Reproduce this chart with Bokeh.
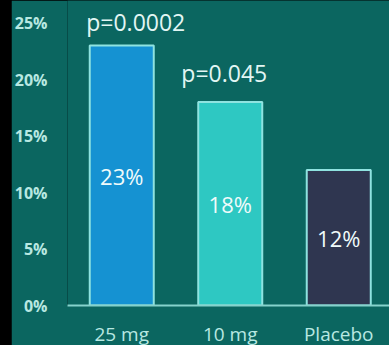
from jinja2 import Template
from bokeh.plotting import figure
from bokeh.models import Range1d, FixedTicker
from bokeh.embed import file_html
from bokeh.resources import INLINE
from bokeh.core.properties import value

doses = ["25 mg", "10 mg", "Placebo"]
rates = [23, 18, 12]
pvalues = ["p=0.0002", "p=0.045", ""]
bar_colors = ["#1592d2", "#2ec8c2", "#2f3650"]
ytick_vals = [0, 5, 10, 15, 20, 25]

BG = "#0b6660"
TXT = "#e2f6f4"

xs = [i + 1 for i in range(len(doses))]

p = figure(frame_width=322, frame_height=305, output_backend="svg", toolbar_location=None,
           x_range=Range1d(0.5, 0.5 + 322 / 108.5), y_range=Range1d(0, 305 / 11.3),
           min_border_left=56, min_border_right=0, min_border_top=0, min_border_bottom=40)
p.background_fill_color = BG
p.border_fill_color = BG
p.outline_line_color = None
p.grid.grid_line_color = None

p.vbar(x=xs, top=rates, width=0.59, fill_color=bar_colors, line_color="#8fe3e0", line_width=2)

p.text(x=xs, y=[r / 2 for r in rates], text=[f"{r}%" for r in rates],
       text_align="center", text_baseline="middle", text_color="#f0fbfb",
       text_font=value("Open Sans"), text_font_size="22px")

p.text(x=xs, y=rates, text=pvalues, x_offset=[14, -6, 0], y_offset=[-24, -29, 0],
       text_align="center", text_baseline="alphabetic", text_color=TXT,
       text_font=value("Open Sans"), text_font_size="23px")

ya = p.yaxis[0]
ya.ticker = FixedTicker(ticks=ytick_vals)
ya.major_label_overrides = {v: f"{v}%" for v in ytick_vals}
ya.axis_line_color = None
ya.major_tick_line_color = None
ya.minor_tick_line_color = None
ya.major_tick_out = 0
ya.major_label_standoff = 20
ya.major_label_text_color = "#b8e8e2"
ya.major_label_text_font = "Open Sans"
ya.major_label_text_font_size = "16px"
ya.major_label_text_font_style = "bold"

xa = p.xaxis[0]
xa.ticker = FixedTicker(ticks=xs)
xa.major_label_overrides = {x: d for x, d in zip(xs, doses)}
xa.axis_line_color = "#86d2cc"
xa.axis_line_width = 2
xa.major_tick_line_color = None
xa.minor_tick_line_color = None
xa.major_tick_out = 0
xa.major_label_standoff = 15
xa.major_label_text_color = "#b8e8e2"
xa.major_label_text_font = "Open Sans"
xa.major_label_text_font_size = "19px"

page = Template("""{% extends base %}
{% block postamble %}<style>
html, body { background-color: #000000 !important; }
body { padding-left: 11px !important; box-sizing: border-box; }
</style>{% endblock %}""")

open("out.html", "w").write(file_html(p, INLINE, template=page))
